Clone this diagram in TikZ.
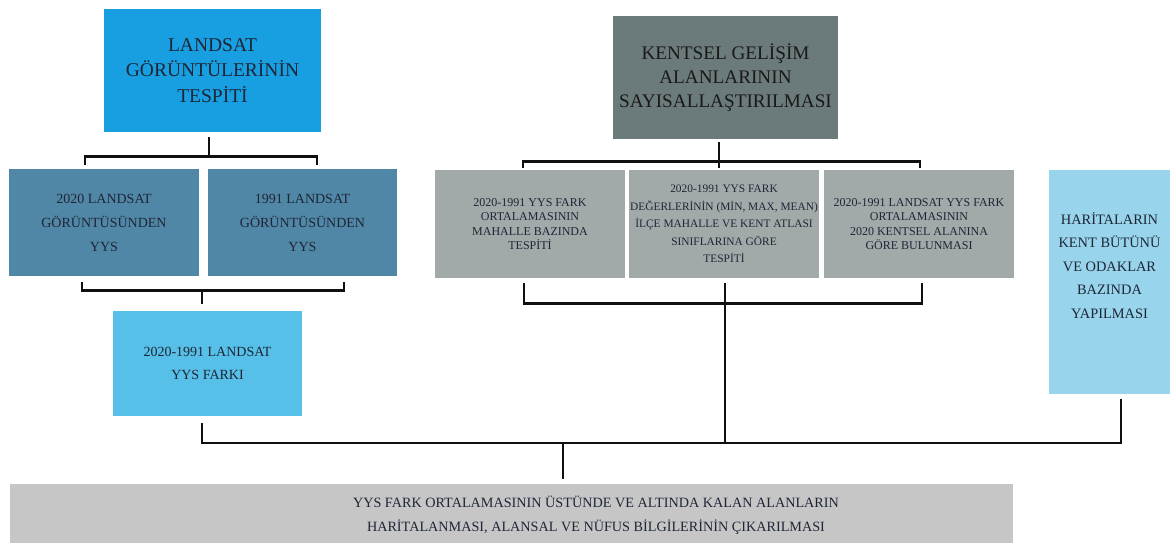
\documentclass[tikz,border=0pt]{standalone}
\usepackage{fontspec}
\setmainfont{Liberation Serif}
\usepackage{xcolor}
\usepackage{tikz}
\usetikzlibrary{calc}
\definecolor{landsat}{HTML}{179FE1}
\definecolor{steel}{HTML}{5087A6}
\definecolor{sky}{HTML}{56C0E9}
\definecolor{slate}{HTML}{6B7A7A}
\definecolor{ash}{HTML}{A1AAA9}
\definecolor{pale}{HTML}{98D4EB}
\definecolor{fog}{HTML}{C6C6C6}
\definecolor{ink}{HTML}{1E2636}
\definecolor{wire}{HTML}{101010}

\begin{document}
\begin{tikzpicture}[x=1pt,y=1pt,line cap=butt,line join=miter,
  box/.style={rectangle,inner sep=0pt,align=center,text=ink},
  small/.style={box,font=\fontsize{12}{14.5}\selectfont,fill=ash,minimum width=190pt,minimum height=108pt},
  conn/.style={wire,line width=2.8pt}]
  \useasboundingbox (0,0) rectangle (1170,-543);
  % left column
  \node[box,fill=landsat,minimum width=217pt,minimum height=123pt,font=\fontsize{19.5}{25.5}\selectfont] (land) at (212.5,-70.5) {LANDSAT\\GÖRÜNTÜLERİNİN\\TESPİTİ};
  \node[box,fill=steel,minimum width=190pt,minimum height=107pt,font=\fontsize{14}{24}\selectfont] (y2020) at (104,-222.5) {2020 LANDSAT\\GÖRÜNTÜSÜNDEN\\YYS};
  \node[box,fill=steel,minimum width=189pt,minimum height=107pt,font=\fontsize{14}{24}\selectfont] (y1991) at (302.5,-222.5) {1991 LANDSAT\\GÖRÜNTÜSÜNDEN\\YYS};
  \node[box,fill=sky,minimum width=189pt,minimum height=105pt,font=\fontsize{14}{23}\selectfont] (fark) at (207.5,-363.5) {2020-1991 LANDSAT\\YYS FARKI};
  % middle column
  \node[box,fill=slate,text=black!90,minimum width=225pt,minimum height=123pt,font=\fontsize{19.2}{24}\selectfont] (kent) at (725.5,-77.5) {KENTSEL GELİŞİM\\ALANLARININ\\SAYISALLAŞTIRILMASI};
  \node[small] (g1) at (530,-224) {2020-1991 YYS FARK\\ORTALAMASININ\\MAHALLE BAZINDA\\TESPİTİ};
  \node[small,font=\fontsize{11.4}{17.5}\selectfont] (g2) at (724,-224) {2020-1991 YYS FARK\\DEĞERLERİNİN (MİN, MAX, MEAN)\\İLÇE MAHALLE VE KENT ATLASI\\SINIFLARINA GÖRE\\TESPİTİ};
  \node[small] (g3) at (919,-224) {2020-1991 LANDSAT YYS FARK\\ORTALAMASININ\\2020 KENTSEL ALANINA\\GÖRE BULUNMASI};
  % right column
  \node[box,fill=pale,minimum width=121pt,minimum height=224pt,font=\fontsize{14.4}{23.5}\selectfont] (harita) at (1109.5,-282) {HARİTALARIN\\KENT BÜTÜNÜ\\VE ODAKLAR\\BAZINDA\\YAPILMASI\\[10pt]};
  % result
  \node[box,fill=fog,minimum width=1003pt,minimum height=59pt] (sonuc) at (511.5,-513.5) {};
  \node[box,font=\fontsize{14.2}{24}\selectfont] (sonuctxt) at (596,-515) {YYS FARK ORTALAMASININ ÜSTÜNDE VE ALTINDA KALAN ALANLARIN\\HARİTALANMASI, ALANSAL VE NÜFUS BİLGİLERİNİN ÇIKARILMASI};
  % brackets
  \draw[conn] ([xshift=-3.5pt,yshift=-5pt]land.south) -- ([xshift=-3.5pt,yshift=-25pt]land.south);
  \draw[conn] ([xshift=-19pt,yshift=4pt]y2020.north) |- ([xshift=14.5pt,yshift=12pt]y1991.north) -- ([xshift=14.5pt,yshift=4pt]y1991.north);
  \draw[conn] ([xshift=-22pt,yshift=-6pt]y2020.south) |- ([xshift=41.5pt,yshift=-14pt]y1991.south) -- ([xshift=41.5pt,yshift=-6pt]y1991.south);
  \draw[conn] ([xshift=-5.5pt,yshift=21pt]fark.north) -- ([xshift=-5.5pt,yshift=7pt]fark.north);
  \draw[conn] ([xshift=-6.5pt,yshift=-3pt]kent.south) -- ([xshift=-5pt,yshift=2pt]g2.north);
  \draw[conn] ([xshift=-7pt,yshift=2pt]g1.north) |- ([xshift=1pt,yshift=8pt]g3.north) -- ([xshift=1pt,yshift=2pt]g3.north);
  \draw[conn] ([xshift=-6pt,yshift=-5pt]g1.south) |- ([xshift=3pt,yshift=-25pt]g3.south) -- ([xshift=3pt,yshift=-5pt]g3.south);
  % bus to the result
  \coordinate (bus) at (563,-443);
  \draw[conn] ([xshift=1pt,yshift=-5pt]g2.south) |- (bus);
  \draw[conn] ([xshift=-5.5pt,yshift=-7pt]fark.south) |- (bus) -| ([xshift=11.5pt,yshift=-5pt]harita.south);
  \draw[conn] (bus) -- ([xshift=51.5pt,yshift=5pt]sonuc.north);
\end{tikzpicture}
\end{document}
